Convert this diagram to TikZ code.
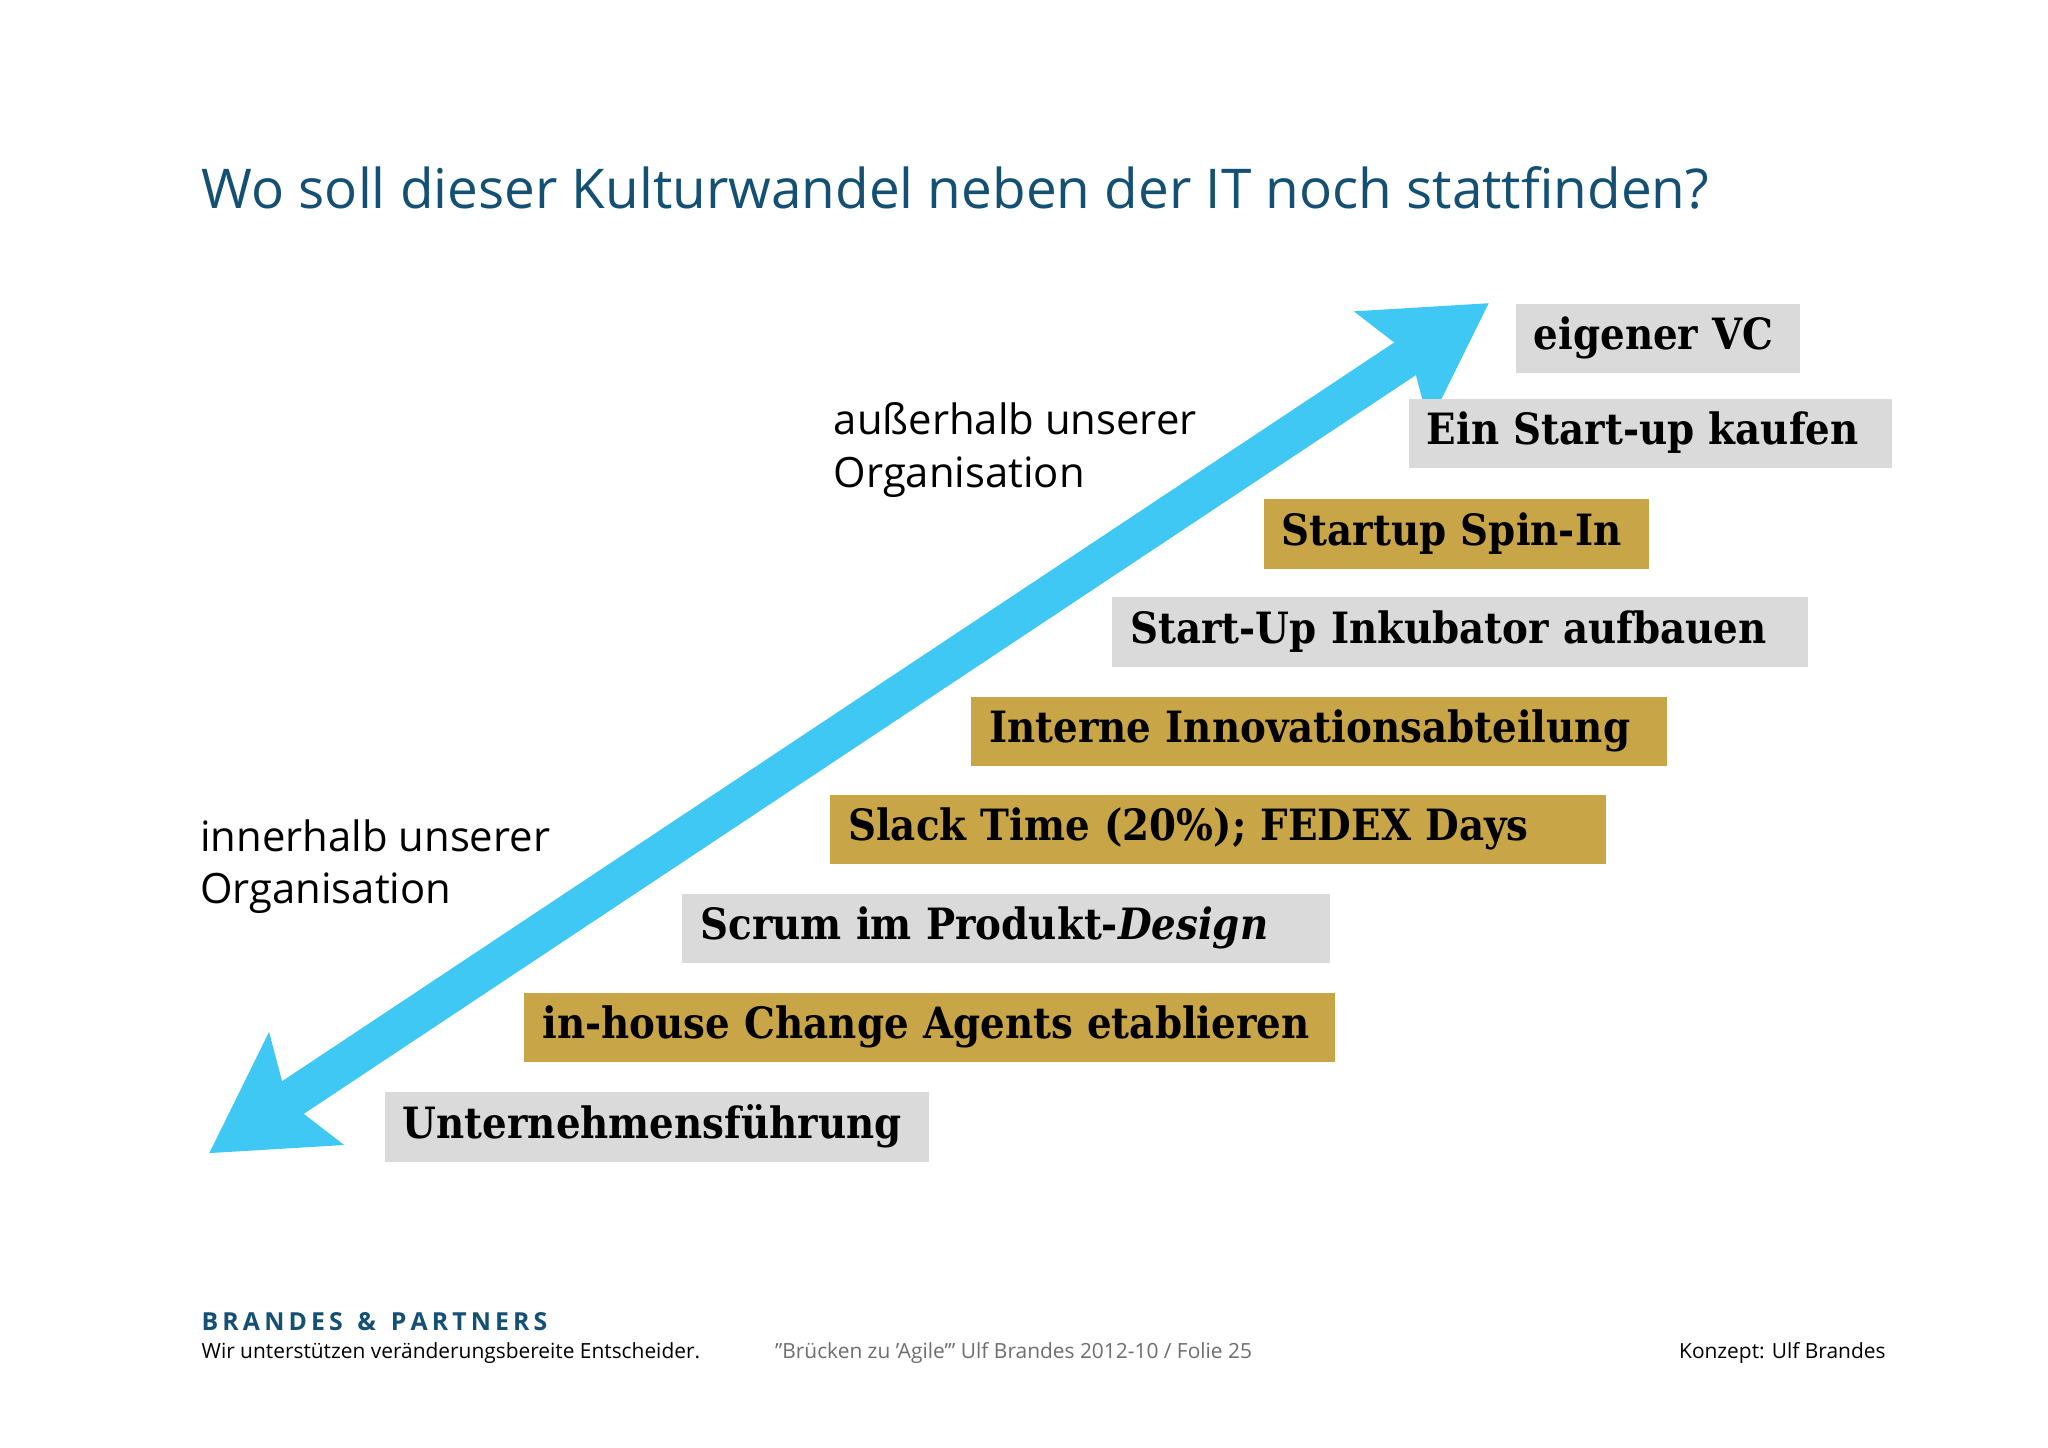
\documentclass[tikz,border=0pt]{standalone}
\usepackage{fontspec}
\setmainfont{Open Sans}
\newfontfamily\boxfont{DejaVu Serif Condensed}[BoldFont={DejaVu Serif Condensed Bold}]
\usetikzlibrary{arrows.meta}
\definecolor{teal}{RGB}{20,80,115}
\definecolor{boxgray}{RGB}{218,218,218}
\definecolor{boxgold}{RGB}{200,165,70}
\definecolor{cyanarrow}{RGB}{64,200,245}
\definecolor{foot}{RGB}{110,110,110}
\tikzset{
 stair/.style={anchor=north west,inner xsep=7pt,inner ysep=0pt,minimum height=26.5pt,
   font=\boxfont\bfseries\fontsize{16.5}{18}\selectfont,text height=12pt,text depth=3.5pt},
 lbl/.style={anchor=north west,align=left,inner sep=0pt,font=\fontsize{16}{20}\selectfont},
}
\newcommand{\stairbox}[6]{\node[stair,fill=#5,minimum width=#3*0.5pt,text width=#3*0.5pt-14pt] (#6) at (#1,#2) {#4};}
\begin{document}
\begin{tikzpicture}[x=0.5pt,y=-0.5pt]
\useasboundingbox (0,0) rectangle (1568,1108);
\fill[white] (0,0) rectangle (1568,1108);
\node[anchor=base west,inner sep=0pt,text=teal,font=\fontsize{21}{24}\selectfont] (title) at (154,160) {Wo soll dieser Kulturwandel neben der IT noch stattfinden?};
\coordinate (lo) at (160,883);
\coordinate (hi) at (1140,232);
\draw[cyanarrow,line width=15pt,{Stealth[length=44pt,width=50pt,inset=8pt]}-{Stealth[length=44pt,width=50pt,inset=8pt]}] (lo) -- (hi);
\stairbox{1160}{232}{218}{eigener VC}{boxgray}{b1}
\stairbox{1078}{305}{370}{Ein Start-up kaufen}{boxgray}{b2}
\stairbox{967}{382}{295}{Startup Spin-In}{boxgold}{b3}
\stairbox{851}{457}{533}{Start-Up Inkubator aufbauen}{boxgray}{b4}
\stairbox{743}{533}{533}{Interne Innovationsabteilung}{boxgold}{b5}
\stairbox{635}{608}{594}{Slack Time (20\%); FEDEX Days}{boxgold}{b6}
\stairbox{522}{684}{496}{Scrum im Produkt-\textit{Design}}{boxgray}{b7}
\stairbox{401}{760}{621}{in-house Change Agents etablieren}{boxgold}{b8}
\stairbox{294}{836}{417}{Unternehmensführung}{boxgray}{b9}
\node[lbl] (out) at (638,308) {außerhalb unserer\\Organisation};
\node[lbl] (in) at (153,627) {innerhalb unserer\\Organisation};
\node[anchor=base west,inner sep=0pt,text=teal,font=\bfseries\fontsize{9.5}{10}\selectfont] (brand) at (154,1019) {B\,R\,A\,N\,D\,E\,S\, \,\&\, \,P\,A\,R\,T\,N\,E\,R\,S};
\node[anchor=base west,inner sep=0pt,font=\fontsize{8}{10}\selectfont] (claim) at (154,1040) {Wir unterstützen veränderungsbereite Entscheider.};
\node[anchor=base west,inner sep=0pt,text=foot,font=\fontsize{8}{10}\selectfont] (folie) at (593,1040) {"Brücken zu 'Agile'" Ulf Brandes 2012-10 / Folie 25};
\node[anchor=base east,inner sep=0pt,font=\fontsize{8}{10}\selectfont] (konz) at (1444,1040) {Konzept: Ulf Brandes};
\end{tikzpicture}
\end{document}
